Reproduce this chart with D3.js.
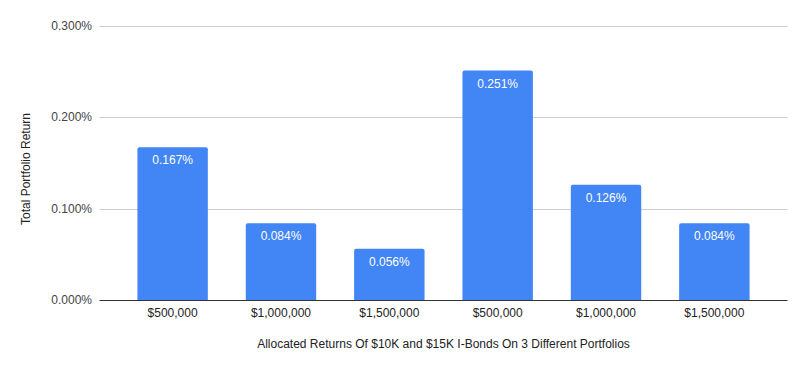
<!DOCTYPE html>
<html>
<head>
<meta charset="utf-8">
<script src="https://cdn.jsdelivr.net/npm/d3@7"></script>
<style>
  body { margin:0; background:#fff; }
  text { font-family: "Liberation Sans", Arial, sans-serif; }
</style>
</head>
<body>
<svg id="chart" width="806" height="371"></svg>
<script>
// data
var categories = ["$500,000","$1,000,000","$1,500,000","$500,000","$1,000,000","$1,500,000"];
var returns = [0.167, 0.084, 0.056, 0.251, 0.126, 0.084];
var yTicks = [0, 0.1, 0.2, 0.3];

var svg = d3.select("#chart");
var plotLeft = 99.5, plotRight = 787.5, plotTop = 25.7, plotBottom = 300;

var x = d3.scaleBand()
          .domain(d3.range(categories.length))
          .range([plotLeft, plotRight])
          .paddingInner(0.35)
          .paddingOuter(0.35);

var y = d3.scaleLinear().domain([0, 0.3]).range([plotBottom, plotTop]);

// gridlines
svg.append("g").selectAll("line").data(yTicks.slice(1)).enter()
   .append("line")
   .attr("x1", plotLeft).attr("x2", plotRight)
   .attr("y1", function(d) { return Math.round(y(d)) + 0.5; })
   .attr("y2", function(d) { return Math.round(y(d)) + 0.5; })
   .attr("stroke", "#cccccc").attr("stroke-width", 1);

// y tick labels
svg.append("g").selectAll("text").data(yTicks).enter()
   .append("text")
   .attr("x", 92)
   .attr("y", function(d) { return y(d); })
   .attr("dy", "0.35em")
   .attr("text-anchor", "end")
   .attr("font-size", 12)
   .attr("fill", "#444")
   .text(function(d) { return d.toFixed(3) + "%"; });

// bars, top corners rounded a little
function barPath(x0, w, yTop, yBot, r) {
  return "M" + x0 + "," + yBot +
         "V" + (yTop + r) +
         "Q" + x0 + "," + yTop + " " + (x0 + r) + "," + yTop +
         "H" + (x0 + w - r) +
         "Q" + (x0 + w) + "," + yTop + " " + (x0 + w) + "," + (yTop + r) +
         "V" + yBot + "Z";
}

svg.append("g").selectAll("path").data(returns).enter()
   .append("path")
   .attr("d", function(d, i) { return barPath(x(i), x.bandwidth(), y(d), plotBottom, 2); })
   .attr("fill", "#4285f4");

// value labels inside bars
svg.append("g").selectAll("text").data(returns).enter()
   .append("text")
   .attr("x", function(d, i) { return x(i) + x.bandwidth() / 2; })
   .attr("y", function(d) { return y(d) + 17; })
   .attr("text-anchor", "middle")
   .attr("font-size", 12)
   .attr("fill", "#ffffff")
   .text(function(d) { return d.toFixed(3) + "%"; });

// baseline
svg.append("line")
   .attr("x1", plotLeft).attr("x2", plotRight)
   .attr("y1", plotBottom + 0.5).attr("y2", plotBottom + 0.5)
   .attr("stroke", "#333333").attr("stroke-width", 1);

// x tick labels
svg.append("g").selectAll("text").data(categories).enter()
   .append("text")
   .attr("x", function(d, i) { return x(i) + x.bandwidth() / 2; })
   .attr("y", 317)
   .attr("text-anchor", "middle")
   .attr("font-size", 12)
   .attr("fill", "#222")
   .text(function(d) { return d; });

// axis titles
svg.append("text")
   .attr("x", (plotLeft + plotRight) / 2)
   .attr("y", 348)
   .attr("text-anchor", "middle")
   .attr("font-size", 12)
   .attr("fill", "#222")
   .text("Allocated Returns Of $10K and $15K I-Bonds On 3 Different Portfolios");

svg.append("text")
   .attr("transform", "translate(30,169) rotate(-90)")
   .attr("text-anchor", "middle")
   .attr("font-size", 12)
   .attr("fill", "#222")
   .text("Total Portfolio Return");
</script>
</body>
</html>
